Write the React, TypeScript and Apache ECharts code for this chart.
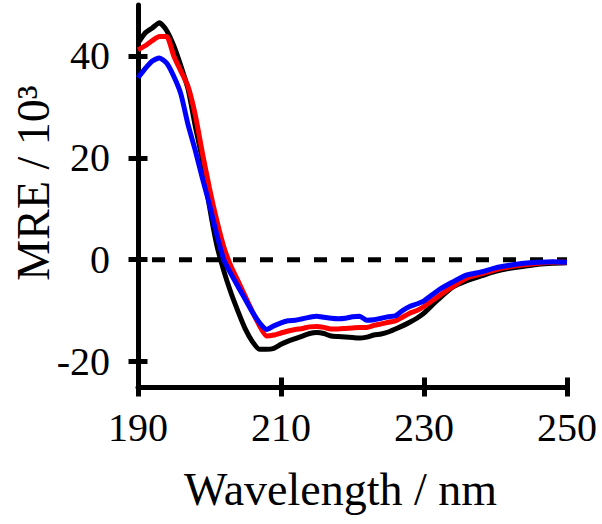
import React, { useEffect, useRef } from "react";
import * as echarts from "echarts";

const wavelengths = [190, 191, 192, 193, 194, 195, 196, 197, 198, 199, 200, 201, 202, 203, 204, 205, 206, 207, 208, 209, 210, 211, 212, 213, 214, 215, 216, 217, 218, 219, 220, 221, 222, 223, 224, 225, 226, 227, 228, 229, 230, 232, 234, 236, 238, 240, 242, 244, 246, 248, 250];

const blackMRE = [42.5, 44.5, 45.5, 46.5, 45.0, 42.0, 38.0, 33.5, 26.3, 19.6, 10.4, 3.0, -2.2, -6.5, -10.2, -13.6, -16.1, -17.6, -17.6, -17.4, -16.6, -16.0, -15.5, -15.0, -14.5, -14.3, -14.5, -15.0, -15.1, -15.2, -15.3, -15.4, -15.2, -14.8, -14.6, -14.2, -13.6, -13.0, -12.3, -11.5, -10.5, -7.8, -5.4, -4.1, -3.2, -2.3, -1.7, -1.3, -0.9, -0.7, -0.6];

const redMRE = [41.2, 42.0, 43.0, 43.8, 43.8, 40.0, 37.0, 34.0, 28.5, 21.0, 14.0, 7.8, 2.5, -1.3, -4.2, -7.2, -10.2, -13.0, -15.0, -14.8, -14.4, -14.0, -13.7, -13.5, -13.2, -13.1, -13.3, -13.6, -13.6, -13.5, -13.4, -13.3, -13.3, -12.9, -12.6, -12.3, -12.0, -11.3, -10.5, -10.0, -9.2, -7.2, -5.3, -3.6, -2.8, -2.0, -1.4, -1.0, -0.7, -0.5, -0.5];

const blueMRE = [35.7, 37.5, 39.0, 39.6, 38.6, 36.0, 32.5, 26.5, 21.5, 16.0, 10.8, 5.0, 0.0, -2.8, -5.3, -7.8, -10.3, -12.4, -13.7, -13.0, -12.4, -12.0, -11.9, -11.6, -11.3, -11.1, -11.3, -11.5, -11.6, -11.5, -11.2, -11.1, -11.9, -11.8, -11.5, -11.2, -11.0, -10.0, -9.2, -8.7, -8.1, -6.0, -4.4, -3.0, -2.4, -1.6, -1.1, -0.7, -0.5, -0.4, -0.5];

const xTicks = [190, 210, 230, 250];
const yTicks = [-20, 0, 20, 40];
const zeroLine = [[190, 0], [250, 0]];

const FONT = "'Liberation Serif', 'Times New Roman', serif";

export default function App() {
  const ref = useRef<HTMLDivElement>(null);
  useEffect(() => {
    if (!ref.current) return;
    const chart = echarts.init(ref.current, null, { renderer: "svg" });
    const pair = (arr: number[]) => wavelengths.map((w, i) => [w, arr[i]]);
    const axisTickCommon = { lineStyle: { color: "#000", width: 5 }, length: 9.5 };
    chart.setOption({
      animation: false,
      backgroundColor: "#fff",
      grid: { left: 138, right: 35, top: 5, bottom: 137, containLabel: false, outerBoundsMode: "none" },
      xAxis: [
        {
          type: "value",
          min: 190,
          max: 250,
          interval: 20,
          name: "Wavelength / nm",
          nameLocation: "middle",
          nameGap: 79,
          nameMoveOverlap: false,
          nameTextStyle: { fontFamily: FONT, fontSize: 46, color: "#000", padding: [0, 24, 0, 0] },
          axisLine: { show: true, onZero: false, lineStyle: { color: "#000", width: 5 } },
          axisTick: { show: true, ...axisTickCommon, customValues: xTicks },
          axisLabel: { customValues: xTicks, fontFamily: FONT, fontSize: 40, color: "#000", margin: 20 },
          splitLine: { show: false },
        },
        {
          type: "value",
          min: 190,
          max: 250,
          interval: 20,
          position: "bottom",
          axisLine: { show: false, onZero: false },
          axisTick: { show: true, inside: true, ...axisTickCommon, customValues: xTicks },
          axisLabel: { show: false },
          splitLine: { show: false },
        },
      ],
      yAxis: [
        {
          type: "value",
          min: -25,
          max: 50,
          name: "MRE / 10³",
          nameLocation: "middle",
          nameGap: 82,
          nameRotate: 90,
          nameMoveOverlap: false,
          nameTextStyle: {
            fontFamily: FONT,
            fontSize: 46,
            color: "#000",
            padding: [0, 0, 0, 26],
          },
          axisLine: { show: true, onZero: false, lineStyle: { color: "#000", width: 5 } },
          axisTick: { show: true, ...axisTickCommon, customValues: yTicks },
          axisLabel: { customValues: yTicks, fontFamily: FONT, fontSize: 40, color: "#000", margin: 28 },
          splitLine: { show: false },
        },
        {
          type: "value",
          min: -25,
          max: 50,
          position: "left",
          axisLine: { show: false, onZero: false },
          axisTick: { show: true, inside: true, ...axisTickCommon, customValues: yTicks },
          axisLabel: { show: false },
          splitLine: { show: false },
        },
      ],
      series: [
        {
          name: "zero",
          type: "line",
          data: zeroLine,
          symbol: "none",
          lineStyle: { color: "#000", width: 5, type: [13, 14], dashOffset: -14 },
          z: 1,
        },
        {
          name: "black",
          type: "line",
          data: pair(blackMRE),
          symbol: "none",
          smooth: 0.2,
          lineStyle: { color: "#000", width: 5 },
          z: 2,
        },
        {
          name: "red",
          type: "line",
          data: pair(redMRE),
          symbol: "none",
          smooth: 0.2,
          lineStyle: { color: "#ff0000", width: 5 },
          z: 3,
        },
        {
          name: "blue",
          type: "line",
          data: pair(blueMRE),
          symbol: "none",
          smooth: 0.2,
          lineStyle: { color: "#0000ff", width: 5 },
          z: 4,
        },
      ],
    });
    return () => chart.dispose();
  }, []);
  return <div ref={ref} style={{ width: 602, height: 524, position: "absolute", left: 0, top: 0 }} />;
}
